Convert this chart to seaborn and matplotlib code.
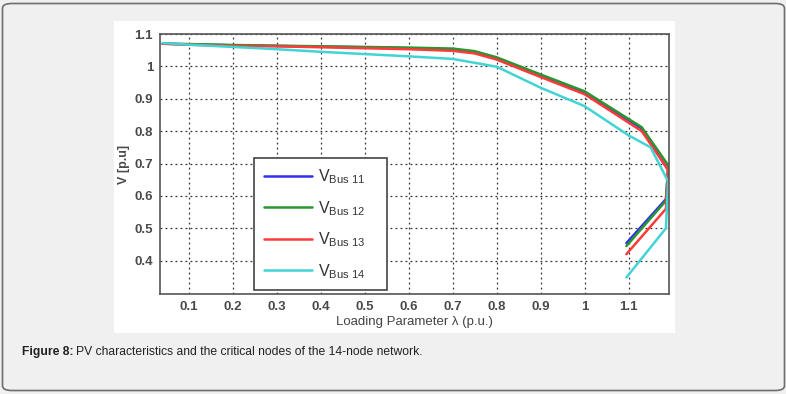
import numpy as np
import pandas as pd
import matplotlib
matplotlib.use('Agg')
import matplotlib.pyplot as plt
from matplotlib.patches import FancyBboxPatch, Rectangle
import seaborn as sns

# PV curves (ordered along each curve, upper branch then lower branch)
lam_11 = [0.04, 0.1, 0.2, 0.3, 0.4, 0.5, 0.6, 0.7, 0.75, 0.8, 0.9, 1.0, 1.13, 1.19, 1.188, 1.185, 1.095]
v_11 = [1.07, 1.068, 1.065, 1.063, 1.061, 1.059, 1.056, 1.052, 1.044, 1.025, 0.972, 0.920, 0.808, 0.68, 0.64, 0.59, 0.454]

lam_12 = [0.04, 0.1, 0.2, 0.3, 0.4, 0.5, 0.6, 0.7, 0.75, 0.8, 0.9, 1.0, 1.13, 1.19, 1.188, 1.185, 1.095]
v_12 = [1.07, 1.069, 1.066, 1.064, 1.062, 1.060, 1.058, 1.055, 1.047, 1.028, 0.975, 0.923, 0.812, 0.695, 0.65, 0.585, 0.445]

lam_13 = [0.04, 0.1, 0.2, 0.3, 0.4, 0.5, 0.6, 0.7, 0.75, 0.8, 0.9, 1.0, 1.13, 1.19, 1.185, 1.095]
v_13 = [1.07, 1.067, 1.063, 1.062, 1.059, 1.056, 1.053, 1.048, 1.040, 1.021, 0.967, 0.914, 0.800, 0.68, 0.56, 0.42]

lam_14 = [0.04, 0.1, 0.2, 0.3, 0.4, 0.5, 0.6, 0.7, 0.8, 0.9, 1.0, 1.1, 1.15, 1.19, 1.185, 1.095]
v_14 = [1.072, 1.067, 1.060, 1.053, 1.045, 1.038, 1.031, 1.023, 0.999, 0.934, 0.877, 0.787, 0.750, 0.645, 0.50, 0.348]

labels = [r'$\mathrm{V}_{\mathrm{Bus\ 11}}$', r'$\mathrm{V}_{\mathrm{Bus\ 12}}$',
          r'$\mathrm{V}_{\mathrm{Bus\ 13}}$', r'$\mathrm{V}_{\mathrm{Bus\ 14}}$']
colors = ['#3030f0', '#2a962f', '#ff3a3a', '#42d4d4']

x_ticks = [0.1, 0.2, 0.3, 0.4, 0.5, 0.6, 0.7, 0.8, 0.9, 1.0, 1.1]
x_ticklabels = ['0.1', '0.2', '0.3', '0.4', '0.5', '0.6', '0.7', '0.8', '0.9', '1', '1.1']
y_ticks = [0.4, 0.5, 0.6, 0.7, 0.8, 0.9, 1.0, 1.1]
y_ticklabels = ['0.4', '0.5', '0.6', '0.7', '0.8', '0.9', '1', '1.1']

sns.set_style('white')
plt.rcParams['font.family'] = ['Liberation Sans', 'DejaVu Sans']
plt.rcParams['mathtext.fontset'] = 'custom'
plt.rcParams['mathtext.rm'] = 'Liberation Sans'
plt.rcParams['mathtext.it'] = 'Liberation Sans:italic'

fig = plt.figure(figsize=(7.86, 3.94), dpi=100)
fig.patch.set_facecolor('#f0f0f0')

# outer rounded panel and white image area (behind the axes)
W, H = 786, 394
fig.patches.append(FancyBboxPatch((2.5 / W, 3.5 / H), 782 / W, 387 / H,
                                  boxstyle='round,pad=0,rounding_size=0.012',
                                  transform=fig.transFigure, facecolor='#f0f0f0',
                                  edgecolor='#6e6e6e', linewidth=1.2, zorder=-2))
fig.patches.append(Rectangle((114 / W, 1 - 333 / H), 561 / W, 312 / H,
                             transform=fig.transFigure, facecolor='white',
                             edgecolor='none', zorder=-1))

ax = fig.add_axes([160 / W, 1 - 294 / H, 509 / W, 260 / H])
ax.set_facecolor('white')

series = [(lam_11, v_11), (lam_12, v_12), (lam_13, v_13), (lam_14, v_14)]
for (lam, v), lab, col in zip(series, labels, colors):
    df = pd.DataFrame({'lam': lam, 'v': v})
    sns.lineplot(data=df, x='lam', y='v', sort=False, estimator=None,
                 color=col, linewidth=1.8, label=lab, ax=ax)

ax.set_xlim(0.034, 1.192)
ax.set_ylim(0.297, 1.1)
ax.set_xticks(x_ticks)
ax.set_xticklabels(x_ticklabels, fontweight='bold')
ax.set_yticks(y_ticks)
ax.set_yticklabels(y_ticklabels, fontweight='bold')
ax.tick_params(direction='in', length=3, colors='#333333', labelsize=9.5,
               labelcolor='#4a4a4a', pad=5)
ax.grid(True, linestyle=(0, (1.5, 2.5)), color='#333333', linewidth=0.9)
for s in ax.spines.values():
    s.set_color('#555555')
    s.set_linewidth(1.2)

ax.set_xlabel('Loading Parameter λ (p.u.)', fontsize=9.5, color='#444444', labelpad=2)
ax.set_ylabel('V [p.u]', fontsize=9, fontweight='bold', color='#4a4a4a', labelpad=3)

leg = ax.legend(loc='lower left', bbox_to_anchor=(0.185, 0.015, 0.261, 0.5),
                mode='expand', borderaxespad=0,
                fontsize=11.5, handlelength=3.0, handletextpad=0.4, labelspacing=0.8,
                borderpad=0.6, fancybox=False, framealpha=1, edgecolor='#444444')
leg.get_frame().set_linewidth(1.2)
for t in leg.get_texts():
    t.set_color('#333333')

fig.text(22 / W, 1 - 352 / H, 'Figure 8:', fontsize=8.7, fontweight='bold',
         color='#222222', va='center', ha='left')
fig.text(76 / W, 1 - 352 / H, 'PV characteristics and the critical nodes of the 14-node network.',
         fontsize=8.7, color='#222222', va='center', ha='left')

fig.savefig('out.png', dpi=100, facecolor=fig.get_facecolor())
